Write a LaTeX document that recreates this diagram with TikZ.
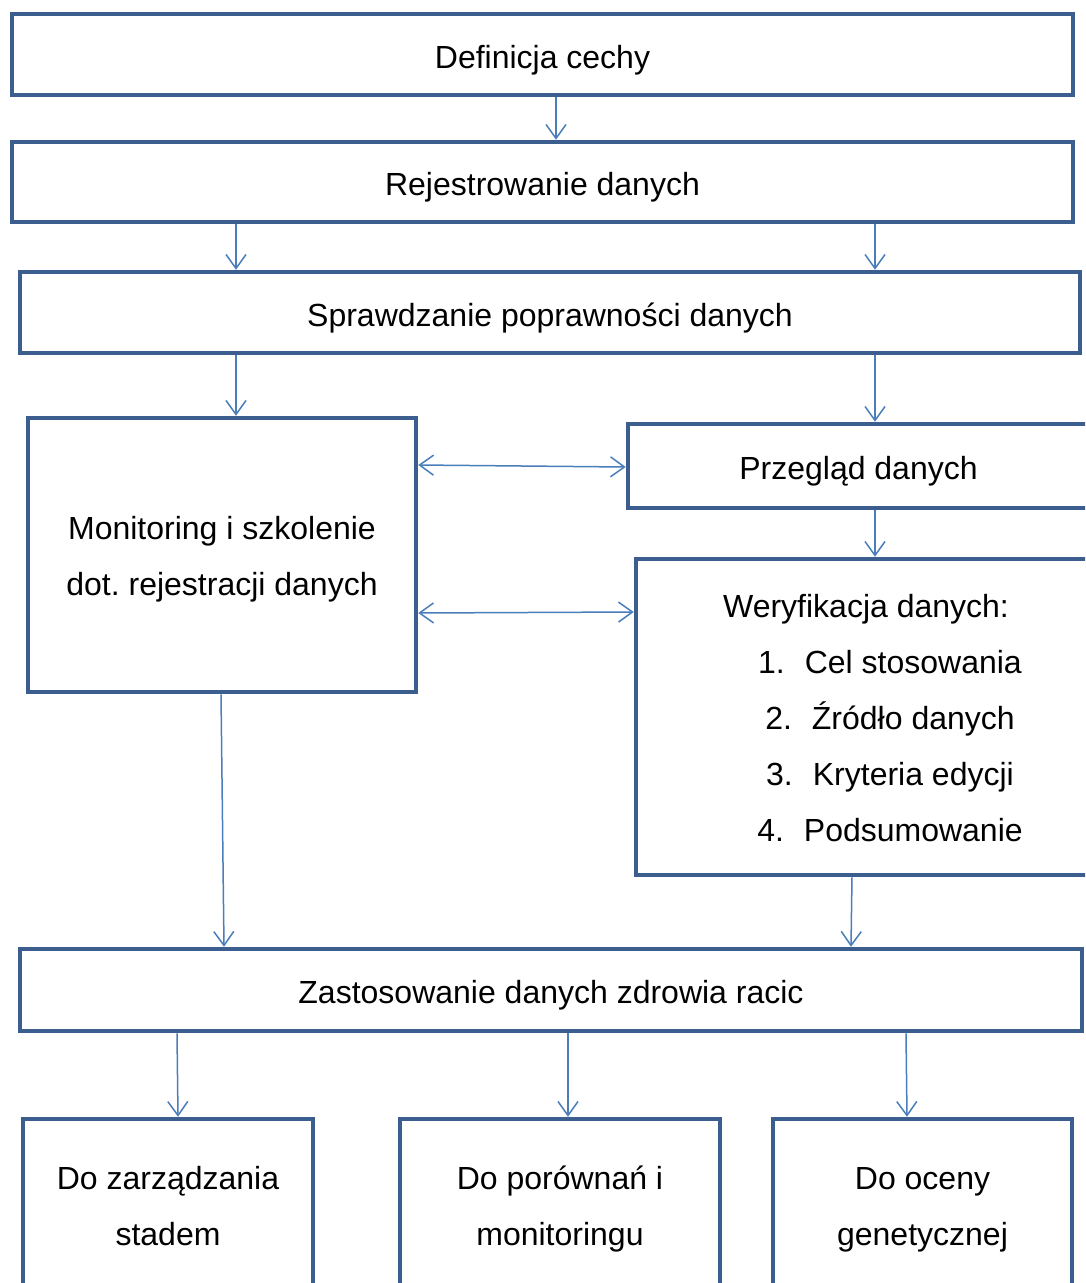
\documentclass[tikz,border=0pt]{standalone}
\usepackage{fontspec}
\setmainfont{Liberation Sans}
\usetikzlibrary{arrows.meta}
\definecolor{boxblue}{HTML}{3B5E8F}
\definecolor{arrowblue}{HTML}{4A7EBB}
\frenchspacing
\newcommand{\firstrule}{\rule{0pt}{42pt}}

\begin{document}
\begin{tikzpicture}[x=1pt,y=-1pt,
    box/.style={draw=boxblue,line width=4.5pt,rectangle,inner sep=2pt,align=center,
      font=\fontsize{32}{56}\selectfont,
      execute at begin node={\rule[-16.8pt]{0pt}{61pt}},execute at end node=\strut},
    arr/.style={draw=arrowblue,line width=1.5pt,-{Straight Barb[length=14pt,width=20pt]}},
    darr/.style={draw=arrowblue,line width=1.5pt,{Straight Barb[length=14pt,width=20pt]}-{Straight Barb[length=14pt,width=20pt]}}]
      \clip (0,0) rectangle (1085,1283);
      \node[box,minimum width=1061pt,minimum height=81pt](def) at (542.5,54.5){Definicja cechy};
      \node[box,minimum width=1061pt,minimum height=80pt](rej) at (542.5,182){Rejestrowanie danych};
      \node[box,minimum width=1060pt,minimum height=81pt](spr) at (550,312.5){Sprawdzanie poprawności danych};
      \node[box,minimum width=388pt,minimum height=274pt](mon) at (222,555){\firstrule Monitoring i szkolenie\\dot. rejestracji danych};
      \node[box,minimum width=461pt,minimum height=84pt](prz) at (858.5,466){Przegląd danych};
      \node[box,minimum width=460pt,minimum height=316pt](wer) at (866,717){\firstrule Weryfikacja danych:\\
        \hspace*{48pt}1.\hspace{20pt}Cel stosowania\\
        \hspace*{48pt}2.\hspace{20pt}Źródło danych\\
        \hspace*{48pt}3.\hspace{20pt}Kryteria edycji\\
        \hspace*{48pt}4.\hspace{20pt}Podsumowanie};
      \node[box,minimum width=1062pt,minimum height=82pt](zas) at (551,990){Zastosowanie danych zdrowia racic};
      \node[box,minimum width=290pt,minimum height=172pt](zar) at (168,1205){\firstrule Do zarządzania\\stadem};
      \node[box,minimum width=320pt,minimum height=172pt](por) at (560,1205){\firstrule Do porównań i\\monitoringu};
      \node[box,minimum width=299pt,minimum height=172pt](oce) at (922.5,1205){\firstrule Do oceny\\genetycznej};

      \draw[arr] (def.south -| 556,0) -- (rej.north -| 556,0);
      \draw[arr] (rej.south -| 236,0) -- (spr.north -| 236,0);
      \draw[arr] (rej.south -| 875,0) -- (spr.north -| 875,0);
      \draw[arr] (spr.south -| 236,0) -- (mon.north -| 236,0);
      \draw[arr] (spr.south -| 875,0) -- (prz.north -| 875,0);
      \draw[arr] (prz.south -| 875,0) -- (wer.north -| 875,0);
      \draw[darr] (mon.east |- 0,465) -- (prz.west |- 0,467);
      \draw[darr] (mon.east |- 0,613) -- (wer.west |- 0,612);
      \draw[arr] (mon.south -| 221,0) -- (zas.north -| 224,0);
      \draw[arr] (wer.south -| 852,0) -- (zas.north -| 851,0);
      \draw[arr] (zas.south -| 177,0) -- (zar.north -| 178,0);
      \draw[arr] (zas.south -| 568,0) -- (por.north -| 568,0);
      \draw[arr] (zas.south -| 906,0) -- (oce.north -| 907,0);
    \end{tikzpicture}
\end{document}
